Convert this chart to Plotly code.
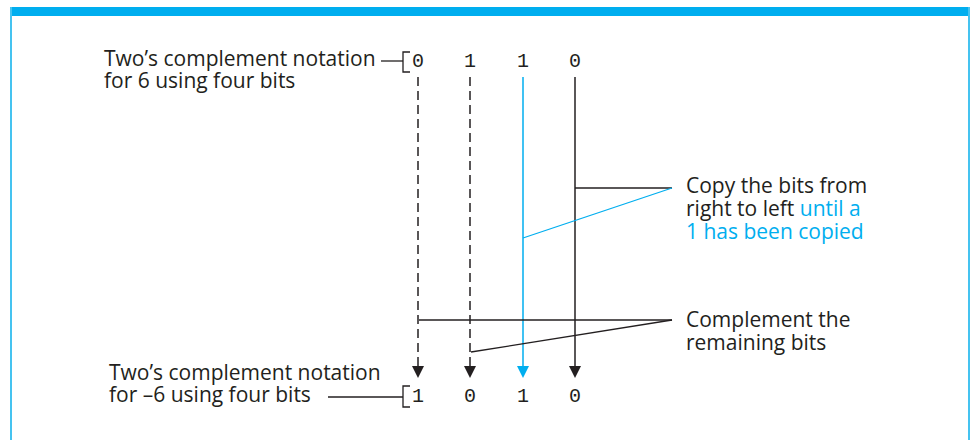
import plotly.graph_objects as go

# ---- data ----
bits_pos6 = ["0", "1", "1", "0"]
bits_neg6 = ["1", "0", "1", "0"]
bit_kind = ["complement", "complement", "copy", "copy"]  # how each bit is obtained
label_top = ["Two’s complement notation", "for 6 using four bits"]
label_bottom = ["Two’s complement notation", "for –6 using four bits"]
note_copy = ["Copy the bits from", "right to left ", "until a", "1 has been copied"]
note_comp = ["Complement the", "remaining bits"]

# ---- layout constants ----
W, H = 972, 440
CYAN = "#00AEEF"
DARK = "#231F20"
col_x = [418, 470, 523, 575]
y_top_bits = 61
y_bot_bits = 396
y_line_start = 77
y_line_end = 366
SANS = "Open Sans"
MONO = "Liberation Mono"
FS = 21

fig = go.Figure()
shapes = []
ann = []

# frame
shapes.append(dict(type="rect", x0=10, x1=970, y0=7, y1=16, line=dict(width=0), fillcolor=CYAN))
shapes.append(dict(type="line", x0=11, x1=11, y0=7, y1=440, line=dict(color="#45C3F0", width=2)))
shapes.append(dict(type="line", x0=969, x1=969, y0=7, y1=440, line=dict(color="#45C3F0", width=2)))

# vertical lines
for i, x in enumerate(col_x):
    kind = bit_kind[i]
    color = CYAN if (kind == "copy" and bits_pos6[i] == "1") else DARK
    dash = "9px,5px" if kind == "complement" else "solid"
    shapes.append(dict(type="line", x0=x, x1=x, y0=y_line_start, y1=y_line_end,
                       line=dict(color=color, width=1.5, dash=dash)))
    # arrowhead
    shapes.append(dict(type="path", path=f"M {x-6},{y_line_end} L {x+6},{y_line_end} L {x},{y_line_end+12} Z",
                       line=dict(width=0), fillcolor=color))

# bits
for i, x in enumerate(col_x):
    ann.append(dict(x=x, y=y_top_bits, text=bits_pos6[i], font=dict(family=MONO, size=20, color=DARK)))
    ann.append(dict(x=x, y=y_bot_bits, text=bits_neg6[i], font=dict(family=MONO, size=20, color=DARK)))

# brackets
for (yt, yb) in [(52, 72), (386, 407)]:
    shapes.append(dict(type="path", path=f"M 410,{yt} L 403,{yt} L 403,{yb} L 410,{yb}",
                       line=dict(color=DARK, width=1.3)))
# leader lines to brackets
shapes.append(dict(type="line", x0=381, x1=403, y0=61, y1=61, line=dict(color=DARK, width=1.3)))
shapes.append(dict(type="line", x0=328, x1=403, y0=397, y1=397, line=dict(color=DARK, width=1.3)))

# left labels
ann.append(dict(x=102, y=58, text=label_top[0], xanchor="left", font=dict(family=SANS, size=FS, color=DARK)))
ann.append(dict(x=102, y=80, text=label_top[1], xanchor="left", font=dict(family=SANS, size=FS, color=DARK)))
ann.append(dict(x=107, y=372, text=label_bottom[0], xanchor="left", font=dict(family=SANS, size=FS, color=DARK)))
ann.append(dict(x=107, y=394, text=label_bottom[1], xanchor="left", font=dict(family=SANS, size=FS, color=DARK)))

# right notes
ann.append(dict(x=684, y=185, text=note_copy[0], xanchor="left", font=dict(family=SANS, size=FS, color=DARK)))
ann.append(dict(x=684, y=208, text=note_copy[1] + f"<span style='color:{CYAN}'>{note_copy[2]}</span>",
                xanchor="left", font=dict(family=SANS, size=FS, color=DARK)))
ann.append(dict(x=684, y=231, text=note_copy[3], xanchor="left", font=dict(family=SANS, size=FS, color=CYAN)))
ann.append(dict(x=684, y=319, text=note_comp[0], xanchor="left", font=dict(family=SANS, size=FS, color=DARK)))
ann.append(dict(x=684, y=342, text=note_comp[1], xanchor="left", font=dict(family=SANS, size=FS, color=DARK)))

# pointer lines for notes
shapes.append(dict(type="line", x0=575, x1=672, y0=188, y1=188, line=dict(color=DARK, width=1.3)))
shapes.append(dict(type="line", x0=523, x1=672, y0=238, y1=188, line=dict(color=CYAN, width=1.3)))
shapes.append(dict(type="line", x0=419, x1=672, y0=320, y1=320, line=dict(color=DARK, width=1.3)))
shapes.append(dict(type="line", x0=471, x1=672, y0=352, y1=320, line=dict(color=DARK, width=1.3)))

for a in ann:
    a.setdefault("xanchor", "center")
    a.update(showarrow=False, xref="x", yref="y", yanchor="middle")

fig.update_layout(
    width=W, height=H, margin=dict(l=0, r=0, t=0, b=0),
    paper_bgcolor="white", plot_bgcolor="white",
    xaxis=dict(range=[0, W], visible=False, fixedrange=True),
    yaxis=dict(range=[H, 0], visible=False, fixedrange=True),
    shapes=shapes, annotations=ann, showlegend=False,
)
fig.write_html("out.html", config={"displayModeBar": False},
               post_script="document.body.style.margin='0';")
